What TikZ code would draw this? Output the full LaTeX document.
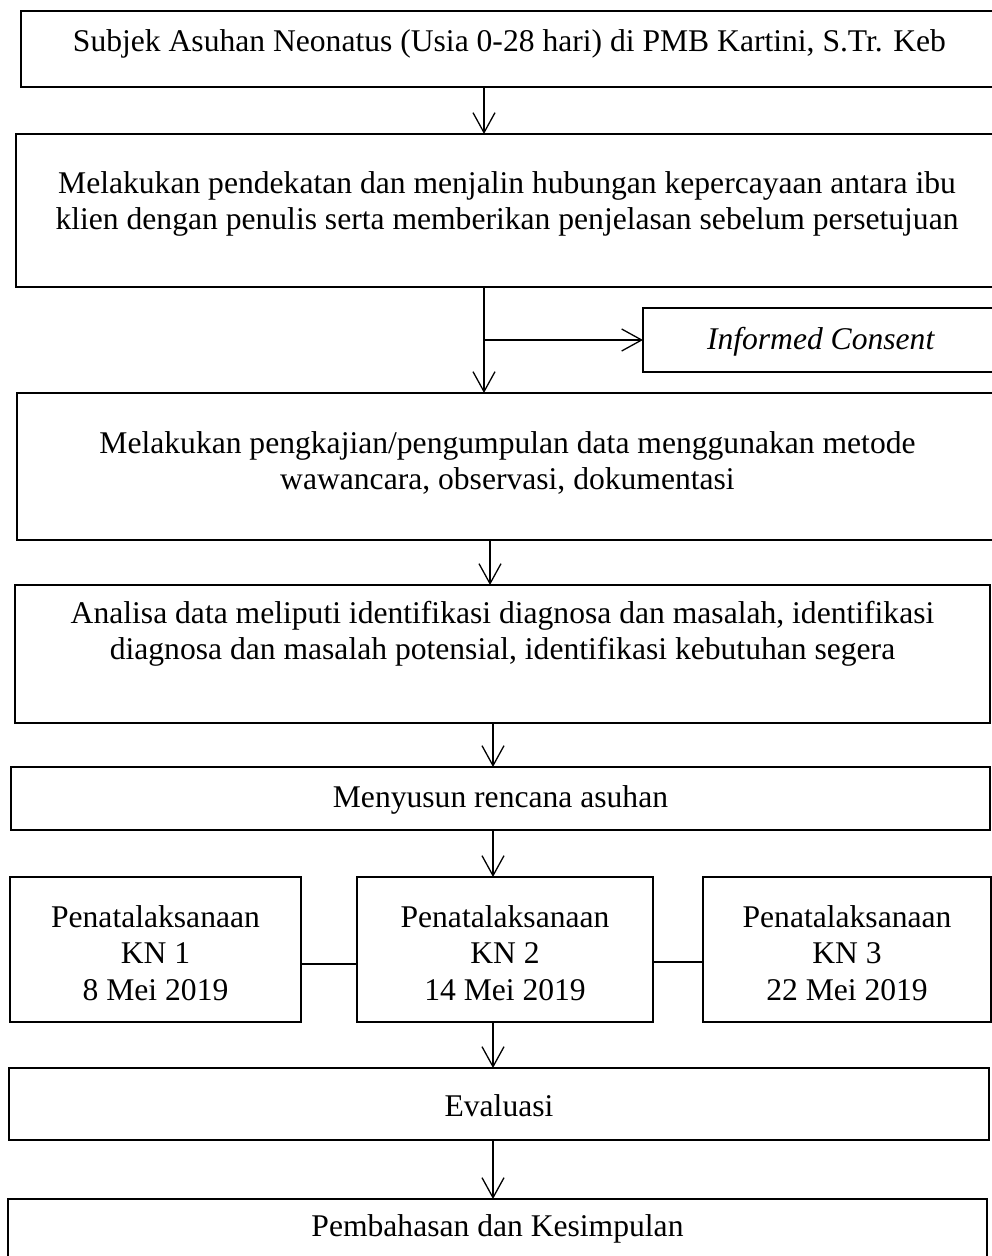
\documentclass[tikz,border=0pt]{standalone}
\usepackage{fontspec}
\setmainfont{Liberation Serif}
\usetikzlibrary{arrows.meta}
\newcommand{\bxt}[4]{\parbox[c][#2pt][t]{#1pt}{\vspace*{\dimexpr #3pt - 0.7\baselineskip\relax}\centering\strut #4\par}}
\begin{document}
\begin{tikzpicture}[x=1pt,y=-1pt,
  box/.style={draw=black, line width=2pt, inner sep=0pt, outer sep=0pt, anchor=north west,
    font=\fontsize{31.6}{36.5}\selectfont},
  arr/.style={line width=1.3pt, -{Straight Barb[length=20pt,width=22pt,line width=1.3pt]}},
  link/.style={line width=1.5pt}]
\useasboundingbox (0,0) rectangle (992,1256);
\clip (0,0) rectangle (992,1256);
\fill[white] (0,0) rectangle (992,1256);

\node[box] (b1) at (21,11) {\bxt{977}{76}{40}{Subjek Asuhan Neonatus (Usia 0-28 hari) di PMB Kartini, S.Tr. Keb}};
\node[box] (b2) at (16,134) {\bxt{982}{153}{59}{Melakukan pendekatan dan menjalin hubungan kepercayaan antara ibu\\klien dengan penulis serta memberikan penjelasan sebelum persetujuan}};
\node[box] (ic) at (643,308) {\bxt{356}{64}{41}{\textit{Informed Consent}}};
\node[box] (b3) at (17,393) {\bxt{981}{147}{60}{Melakukan pengkajian/pengumpulan data menggunakan metode\\wawancara, observasi, dokumentasi}};
\node[box] (b4) at (15,585) {\bxt{975}{138}{38}{Analisa data meliputi identifikasi diagnosa dan masalah, identifikasi\\diagnosa dan masalah potensial, identifikasi kebutuhan segera}};
\node[box] (b5) at (11,767) {\bxt{979}{63}{40}{Menyusun rencana asuhan}};
\node[box] (k1) at (10,877) {\bxt{291}{145}{50}{Penatalaksanaan\\KN 1\\8 Mei 2019}};
\node[box] (k2) at (357,877) {\bxt{296}{145}{50}{Penatalaksanaan\\KN 2\\14 Mei 2019}};
\node[box] (k3) at (703,877) {\bxt{288}{145}{50}{Penatalaksanaan\\KN 3\\22 Mei 2019}};
\node[box] (ev) at (9,1068) {\bxt{980}{72}{48}{Evaluasi}};
\node[box] (pb) at (8,1199) {\bxt{979}{80}{37}{Pembahasan dan Kesimpulan}};

\coordinate (xa) at (484,0);
\coordinate (xb) at (490,0);
\coordinate (xc) at (493,0);
\coordinate (ya) at (0,964);
\coordinate (yb) at (0,962);

\draw[arr] (b1.south -| xa) -- (b2.north -| xa);
\draw[arr] (b2.south -| xa) -- (b3.north -| xa);
\draw[arr] (ic.west -| xa) -- (ic.west);
\draw[arr] (b3.south -| xb) -- (b4.north -| xb);
\draw[arr] (b4.south -| xc) -- (b5.north -| xc);
\draw[arr] (b5.south -| xc) -- (k2.north -| xc);
\draw[link] (k1.east |- ya) -- (k2.west |- ya);
\draw[link] (k2.east |- yb) -- (k3.west |- yb);
\draw[arr] (k2.south -| xc) -- (ev.north -| xc);
\draw[arr] (ev.south -| xc) -- (pb.north -| xc);
\end{tikzpicture}
\end{document}
